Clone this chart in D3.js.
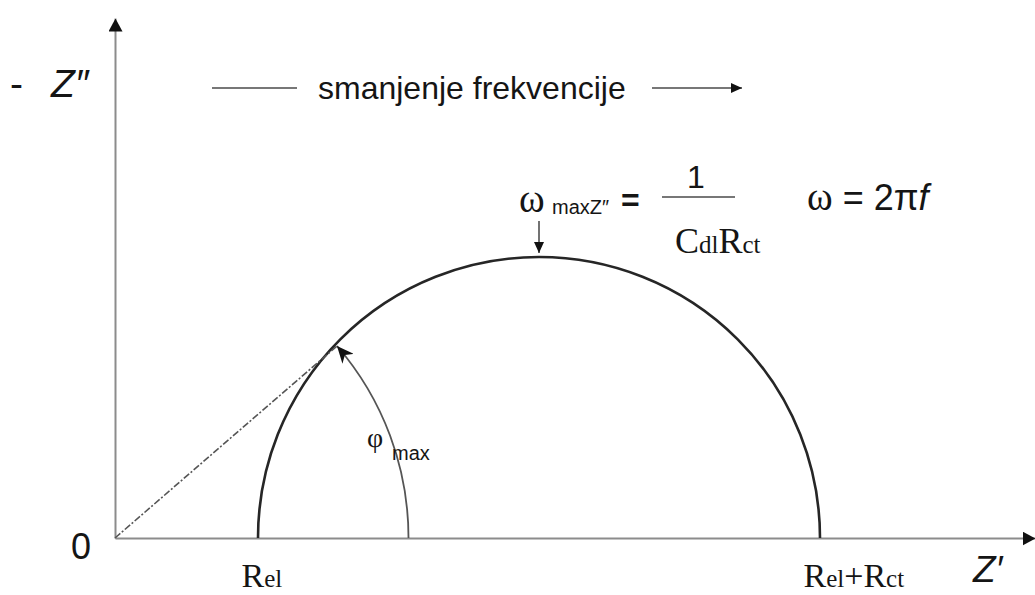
<!DOCTYPE html>
<html>
<head>
<meta charset="utf-8">
<script src="https://cdn.jsdelivr.net/npm/d3@7"></script>
<style>
    body { margin: 0; background: #fff; }
    text { font-family: "Liberation Sans", Arial, sans-serif; fill: #151515; }
    .serif { font-family: "Liberation Serif", "Times New Roman", serif; }
</style>
</head>
<body>
<div id="chart"></div>
<script>
// 1: VALUES (same arbitrary unit on both axes)
const Rel = 1.43;
const Rct = 5.62;
const xTickValues = [Rel, Rel + Rct];
// tick labels as [text, isSubscript] pieces
const xTickLabels = [
    [["R", false], ["el", true]],
    [["R", false], ["el", true], ["+", false], ["R", false], ["ct", true]]
];
const yTickValues = [0];
const xDomain = [0, 9.2];
const yDomain = [0, 5.2];
// point where the dashed line meets the semicircle (Z', -Z'')
const phiPoint = { re: 2.22, im: 1.92 };
// top of the semicircle
const peakPoint = { re: Rel + Rct / 2, im: Rct / 2 };

const width = 1035;
const height = 595;
const axisColor = "#8c8c8c";
const curveColor = "#262626";

const svg = d3.select("#chart")
    .append("svg")
    .attr("width", width)
    .attr("height", height);

// 2: SCALES
const x = d3.scaleLinear().domain(xDomain).range([115, 1035]);
const y = d3.scaleLinear().domain(yDomain).range([538, 18]);

// arrow heads
const defs = svg.append("defs");
function addMarker(id, len, wid, notch, color) {
    defs.append("marker")
        .attr("id", id)
        .attr("markerUnits", "userSpaceOnUse")
        .attr("viewBox", `0 0 ${len} ${wid}`)
        .attr("markerWidth", len)
        .attr("markerHeight", wid)
        .attr("refX", len)
        .attr("refY", wid / 2)
        .attr("orient", "auto")
        .append("path")
        .attr("d", `M0,0L${len},${wid / 2}L0,${wid}L${notch},${wid / 2}Z`)
        .attr("fill", color);
}
addMarker("arrowAxis", 13, 14, 0, "#111");
addMarker("arrowSmall", 11, 10, 0, "#111");
addMarker("arrowPhi", 17, 15, 5, "#111");

// 3: AXES
const gx = svg.append("g")
    .attr("transform", `translate(0,${y(0)})`)
    .call(d3.axisBottom(x).tickValues(xTickValues).tickSize(0).tickSizeOuter(0).tickFormat(""))
    .attr("font-size", null)
    .attr("font-family", null);

gx.select(".domain")
    .attr("stroke", axisColor)
    .attr("stroke-width", 2)
    .attr("marker-end", "url(#arrowAxis)");

gx.selectAll(".tick line").remove();
gx.selectAll(".tick text").each(function(d, i) {
    const t = d3.select(this)
        .attr("class", "serif")
        .attr("text-anchor", "start")
        .attr("x", -17)
        .attr("y", 49)
        .attr("dy", null)
        .attr("fill", "#151515")
        .style("font-size", "34px");
    xTickLabels[i].forEach(([s, sub]) => {
        t.append("tspan").style("font-size", sub ? "25px" : "34px").text(s);
    });
});

const gy = svg.append("g")
    .attr("transform", `translate(${x(0)},0)`)
    .call(d3.axisLeft(y).tickValues(yTickValues).tickSize(0).tickSizeOuter(0).tickFormat(d3.format("d")))
    .attr("font-size", null)
    .attr("font-family", null);

gy.select(".domain")
    .attr("stroke", axisColor)
    .attr("stroke-width", 2)
    .attr("marker-end", "url(#arrowAxis)");

gy.selectAll(".tick line").remove();
gy.selectAll(".tick text")
    .attr("x", -24)
    .attr("dy", null)
    .attr("y", 20)
    .attr("fill", "#151515")
    .style("font-size", "36px");

// axis titles
svg.append("text")
    .attr("x", 10)
    .attr("y", 97)
    .style("font-size", "39px")
    .text("-");

svg.append("text")
    .attr("x", 51)
    .attr("y", 97)
    .style("font-size", "39px")
    .style("font-style", "italic")
    .text("Z\u2033");

svg.append("text")
    .attr("x", 973)
    .attr("y", 582)
    .style("font-size", "37px")
    .style("font-style", "italic")
    .text("Z\u2032");

// 4: SEMICIRCLE
const cx = x(peakPoint.re);
const cy = y(0);
const r = x(Rel + Rct) - cx;
const semi = d3.path();
semi.moveTo(x(Rel), cy);
semi.arc(cx, cy, r, Math.PI, 2 * Math.PI);

svg.append("path")
    .attr("d", semi.toString())
    .attr("fill", "none")
    .attr("stroke", curveColor)
    .attr("stroke-width", 2.6);

// dashed line from origin
svg.append("line")
    .attr("x1", x(0))
    .attr("y1", y(0))
    .attr("x2", x(phiPoint.re))
    .attr("y2", y(phiPoint.im))
    .attr("stroke", "#555")
    .attr("stroke-width", 1.6)
    .attr("stroke-dasharray", "7,2,2,2");

// phi max arc with arrow
const dx = x(phiPoint.re) - x(0);
const dy = y(0) - y(phiPoint.im);
const r0 = Math.hypot(dx, dy);
const theta = Math.atan2(dy, dx);
const phiArc = d3.path();
phiArc.moveTo(x(0) + r0, y(0));
phiArc.arc(x(0), y(0), r0, 0, -theta, true);

svg.append("path")
    .attr("d", phiArc.toString())
    .attr("fill", "none")
    .attr("stroke", "#555")
    .attr("stroke-width", 1.8)
    .attr("marker-end", "url(#arrowPhi)");

svg.append("text")
    .attr("class", "serif")
    .attr("x", 367)
    .attr("y", 447)
    .style("font-size", "28px")
    .text("\u03C6");

svg.append("text")
    .attr("x", 392)
    .attr("y", 460)
    .style("font-size", "20px")
    .attr("fill", "#333")
    .text("max");

// 5: PEAK ANNOTATION
svg.append("line")
    .attr("x1", cx)
    .attr("y1", y(peakPoint.im) - 36)
    .attr("x2", cx)
    .attr("y2", y(peakPoint.im) - 4)
    .attr("stroke", "#444")
    .attr("stroke-width", 1.5)
    .attr("marker-end", "url(#arrowSmall)");

svg.append("text")
    .attr("class", "serif")
    .attr("x", 519)
    .attr("y", 212)
    .style("font-size", "39px")
    .text("\u03C9");

svg.append("text")
    .attr("x", 552)
    .attr("y", 214)
    .style("font-size", "20px")
    .attr("fill", "#333")
    .text("maxZ\u2033");

svg.append("text")
    .attr("x", 621)
    .attr("y", 211)
    .style("font-size", "32px")
    .style("font-weight", "bold")
    .text("=");

svg.append("line")
    .attr("x1", 662)
    .attr("x2", 735)
    .attr("y1", 197)
    .attr("y2", 197)
    .attr("stroke", "#777")
    .attr("stroke-width", 2);

svg.append("text")
    .attr("x", 696)
    .attr("y", 188)
    .attr("text-anchor", "middle")
    .style("font-size", "32px")
    .text("1");

const denom = svg.append("text")
    .attr("class", "serif")
    .attr("x", 675)
    .attr("y", 253)
    .style("font-size", "36px");
[["C", false], ["dl", true], ["R", false], ["ct", true]].forEach(([s, sub]) => {
    denom.append("tspan").style("font-size", sub ? "25px" : "36px").text(s);
});

const omega = svg.append("text")
    .attr("x", 807)
    .attr("y", 210)
    .style("font-size", "36px");
omega.append("tspan").attr("class", "serif").style("font-size", "39px").text("\u03C9");
omega.append("tspan").text(" = 2\u03C0");
omega.append("tspan").style("font-style", "italic").text("f");

// 6: FREQUENCY ARROW
svg.append("line")
    .attr("x1", 212).attr("x2", 297)
    .attr("y1", 88).attr("y2", 88)
    .attr("stroke", "#777")
    .attr("stroke-width", 2);

svg.append("text")
    .attr("x", 318)
    .attr("y", 99)
    .style("font-size", "32px")
    .text("smanjenje frekvencije");

svg.append("line")
    .attr("x1", 652).attr("x2", 742)
    .attr("y1", 88).attr("y2", 88)
    .attr("stroke", "#777")
    .attr("stroke-width", 2)
    .attr("marker-end", "url(#arrowSmall)");
</script>
</body>
</html>
